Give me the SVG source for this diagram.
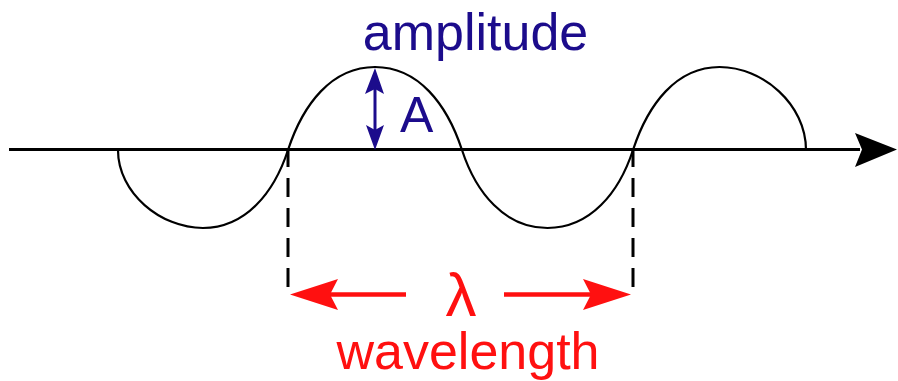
<svg xmlns="http://www.w3.org/2000/svg" width="898" height="381" viewBox="0 0 898 381">
<style>
.wave{fill:none;stroke:#000;stroke-width:2.2}
.axis{fill:none;stroke:#000;stroke-width:3}
.dash{fill:none;stroke:#000;stroke-width:3;stroke-dasharray:19 11}
.red{fill:none;stroke:#ff1010;stroke-width:4.5}
.redhead{fill:#ff1010}
.blue{fill:none;stroke:#1c0c8c;stroke-width:3}
.bluehead{fill:#1c0c8c}
.lblB{font-family:"Liberation Sans",Arial,sans-serif;fill:#1c0c8c}
.lblR{font-family:"Liberation Sans",Arial,sans-serif;fill:#ff1010}
</style>
<g id="axis">
<line class="axis" x1="9" y1="149.5" x2="860" y2="149.5"/>
<polygon points="897,149.5 855,133 862,149.5 855,167" fill="#000"/>
</g>
<g id="wave">
<path class="wave" d="M118,150 C118,192.9 160.5,228 203,228 C245.5,228 274,192.9 288,150 C303,104.35 331.5,67 375,67 C418.5,67 447,104.35 462,150 C476,192.9 504.75,228 547.5,228 C590.25,228 619,192.9 633,150 C648,104.35 676.25,67 719.5,67 C762.75,67 806,104.35 806,150"/>
</g>
<g id="connectors">
<line class="dash" x1="288" y1="148" x2="288" y2="288"/>
<line class="dash" x1="633" y1="148" x2="633" y2="288"/>
<g id="wavelength-arrows">
<line class="red" x1="300" y1="294.5" x2="406" y2="294.5"/>
<polygon class="redhead" points="290,294.5 338,279 330,294.5 338,310"/>
<line class="red" x1="504" y1="294.5" x2="621" y2="294.5"/>
<polygon class="redhead" points="631,294.5 583,279 591,294.5 583,310"/>
</g>
<g id="amplitude-arrow">
<line class="blue" x1="375" y1="80" x2="375" y2="140"/>
<polygon class="bluehead" points="375,68 384,94 375,89 365,94"/>
<polygon class="bluehead" points="375,150 366,125 375,130 384,125"/>
</g>
</g>
<g id="label-amplitude">
<text class="lblB" x="475.5" y="50" font-size="52" text-anchor="middle">amplitude</text>
</g>
<g id="label-A">
<text class="lblB" x="400" y="132" font-size="50">A</text>
</g>
<g id="label-lambda">
<text class="lblR" x="461" y="316" font-size="62" text-anchor="middle">λ</text>
</g>
<g id="label-wavelength">
<text class="lblR" x="468" y="369" font-size="52" text-anchor="middle">wavelength</text>
</g>
</svg>
